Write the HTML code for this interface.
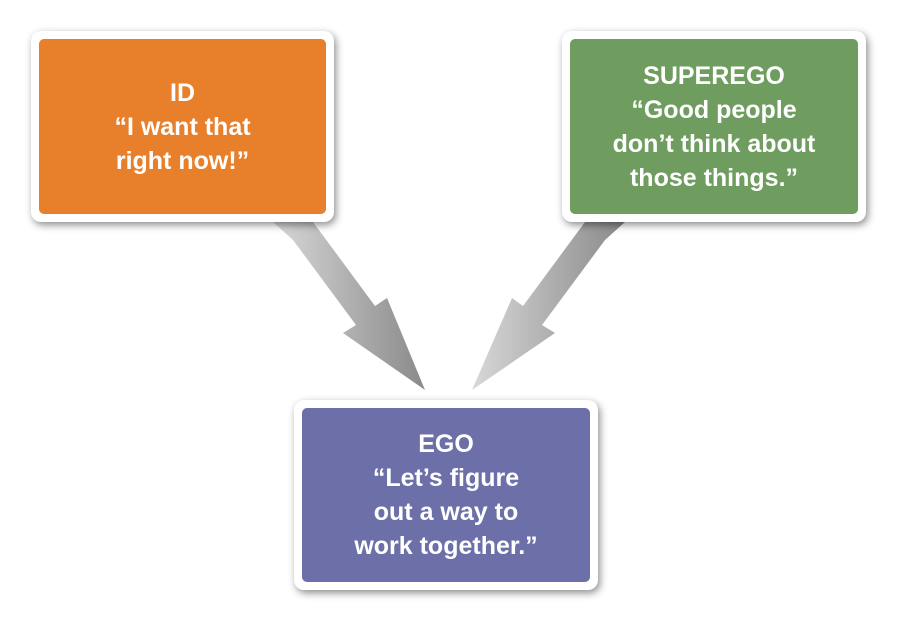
<!DOCTYPE html>
<html><head><style>
body{margin:0;width:898px;height:622px;background:#fff;position:relative;overflow:hidden;font-family:"Liberation Sans",sans-serif}
.box{position:absolute;background:#fff;border-radius:10px;box-shadow:2px 3px 8px rgba(0,0,0,.45)}
.in{position:absolute;left:8px;top:8px;right:8px;bottom:8px;border-radius:5px;color:#fff;font-weight:bold;font-size:25px;line-height:34px;text-align:center;display:flex;flex-direction:column;justify-content:center}
</style></head><body>
<svg width="898" height="622" style="position:absolute;left:0;top:0">
<defs><linearGradient id="g" x1="0" y1="0" x2="1" y2="0"><stop offset="0" stop-color="#d8d8d8"/><stop offset="0.5" stop-color="#b0b0b0"/><stop offset="1" stop-color="#8a8a8a"/></linearGradient></defs>
<polygon points="273,222 313,222 375,306 387,298 425,390 343,333 356,325 293,240" fill="url(#g)"/>
<polygon points="625,222 585,222 523,306 512,298 472,390 555,333 542,325 605,240" fill="url(#g)"/>
</svg>
<div class="box" style="left:31px;top:31px;width:303px;height:191px"><div class="in" style="background:#e8802b">ID<br>“I want that<br>right now!”</div></div>
<div class="box" style="left:562px;top:31px;width:304px;height:191px"><div class="in" style="background:#6f9d5f">SUPEREGO<br>“Good people<br>don’t think about<br>those things.”</div></div>
<div class="box" style="left:294px;top:400px;width:304px;height:190px"><div class="in" style="background:#6d70a8">EGO<br>“Let’s figure<br>out a way to<br>work together.”</div></div>
</body></html>
